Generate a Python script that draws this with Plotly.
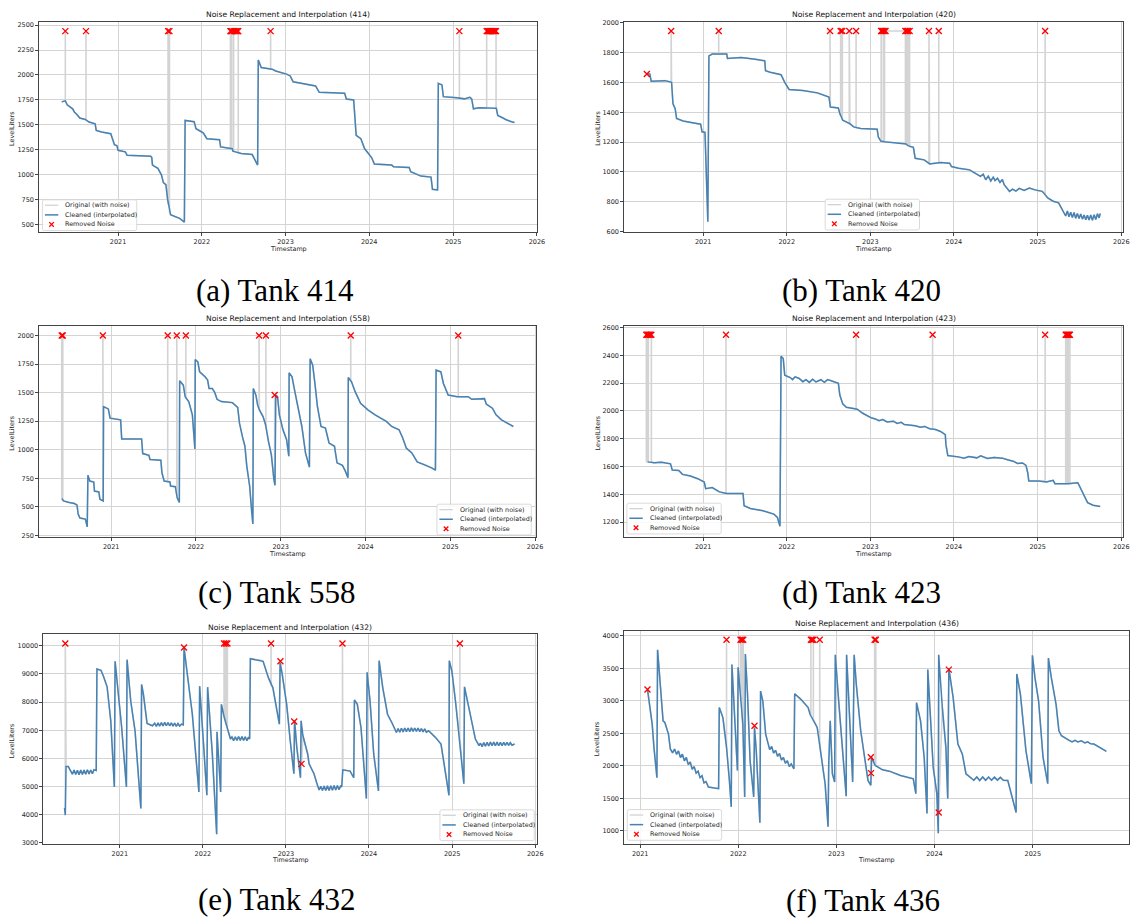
import plotly.graph_objects as go
from datetime import datetime

# ------------------------------------------------------------------
# DATA  (x = decimal year, y = LevelLiters)
# ------------------------------------------------------------------
TANK_IDS = ["414", "420", "558", "423", "432", "436"]
CAPTIONS = ["(a) Tank 414", "(b) Tank 420", "(c) Tank 558",
            "(d) Tank 423", "(e) Tank 432", "(f) Tank 436"]
LEGEND_LABELS = ["Original (with noise)", "Cleaned (interpolated)", "Removed Noise"]

CLEAN_414 = [(2020.329,1730),(2020.372,1740),(2020.394,1700),(2020.437,1676),(2020.459,1660),(2020.481,1626),
    (2020.502,1610),(2020.545,1567),(2020.610,1553),(2020.654,1527),(2020.727,1510),(2020.740,1444),(2020.805,1427),
    (2020.913,1410),(2020.926,1377),(2020.957,1300),(2020.987,1290),(2021.000,1244),(2021.087,1228),(2021.108,1194),
    (2021.390,1184),(2021.403,1170),(2021.411,1095),(2021.476,1062),(2021.519,995),(2021.532,960),(2021.541,919),
    (2021.571,900),(2021.593,746),(2021.628,596),(2021.671,580),(2021.736,560),(2021.792,523),(2021.801,1543),
    (2021.909,1530),(2021.931,1460),(2021.974,1440),(2022.017,1420),(2022.061,1360),(2022.212,1350),(2022.225,1278),
    (2022.364,1260),(2022.372,1234),(2022.472,1211),(2022.602,1201),(2022.667,1095),(2022.675,2151),(2022.710,2075),
    (2022.840,2058),(2022.883,2040),(2023.013,2008),(2023.056,1990),(2023.091,1932),(2023.229,1909),(2023.359,1890),
    (2023.403,1826),(2023.706,1816),(2023.727,1759),(2023.814,1749),(2023.844,1394),(2023.900,1360),(2023.944,1261),
    (2023.987,1211),(2024.030,1168),(2024.061,1105),(2024.268,1095),(2024.290,1078),(2024.476,1070),(2024.494,1029),
    (2024.571,1002),(2024.615,985),(2024.736,975),(2024.753,852),(2024.814,845),(2024.823,1915),(2024.866,1900),
    (2024.883,1782),(2025.048,1770),(2025.134,1760),(2025.199,1776),(2025.221,1760),(2025.242,1660),(2025.307,1670),
    (2025.515,1665),(2025.532,1593),(2025.589,1570),(2025.632,1550),(2025.697,1530),(2025.732,1522)]
NOISE_X_414 = [2020.372, 2020.618, 2021.597, 2021.614, 2022.342, 2022.350, 2022.357, 2022.380, 2022.392,
               2022.404, 2022.416, 2022.428, 2022.436, 2022.822, 2025.074, 2025.400, 2025.410, 2025.420,
               2025.430, 2025.440, 2025.450, 2025.460, 2025.470, 2025.480, 2025.490, 2025.500, 2025.512]
NOISE_Y_414 = [2440, 2440, 2440, 2440, 2440, 2440, 2440, 2440, 2440, 2440, 2440, 2440, 2440, 2440,
               2440, 2440, 2440, 2440, 2440, 2440, 2440, 2440, 2440, 2440, 2440, 2440, 2440]
NOISE_BASE_414 = [1740, 1550, 700, 620, 1265, 1265, 1262, 1232, 1228, 1225, 1222, 1220, 1218, 2060,
                  1768, 1667, 1667, 1667, 1667, 1667, 1667, 1667, 1667, 1667, 1666, 1666, 1665]

CLEAN_420 = [(2020.319,1657),(2020.363,1657),(2020.380,1608),(2020.458,1608),(2020.545,1612),(2020.623,1601),
    (2020.640,1457),(2020.666,1424),(2020.683,1358),(2020.761,1342),(2020.848,1331),(2020.970,1320),(2020.987,1269),
    (2021.022,1265),(2021.056,667),(2021.069,1778),(2021.108,1790),(2021.282,1790),(2021.291,1761),(2021.455,1767),
    (2021.629,1756),(2021.737,1745),(2021.746,1679),(2021.802,1668),(2021.932,1652),(2021.976,1601),(2022.028,1553),
    (2022.193,1546),(2022.366,1530),(2022.431,1517),(2022.505,1502),(2022.522,1435),(2022.617,1429),(2022.635,1391),
    (2022.670,1347),(2022.756,1324),(2022.800,1302),(2022.886,1291),(2023.082,1287),(2023.095,1236),(2023.125,1207),
    (2023.168,1203),(2023.428,1187),(2023.450,1176),(2023.515,1165),(2023.537,1092),(2023.645,1081),(2023.710,1054),
    (2023.841,1063),(2023.949,1059),(2023.971,1036),(2024.057,1025),(2024.187,1014),(2024.252,992),(2024.317,970),
    (2024.350,985),(2024.380,948),(2024.410,972),(2024.440,940),(2024.470,965),(2024.491,942),(2024.520,958),
    (2024.550,930),(2024.578,950),(2024.600,915),(2024.664,870),(2024.700,885),(2024.740,872),(2024.780,890),
    (2024.838,876),(2024.900,892),(2024.968,880),(2025.055,870),(2025.120,826),(2025.185,804),(2025.250,793),
    (2025.315,733),(2025.335,705),(2025.355,738),(2025.375,700),(2025.395,730),(2025.415,695),(2025.435,728),
    (2025.455,690),(2025.475,722),(2025.495,688),(2025.515,718),(2025.535,684),(2025.555,712),(2025.575,680),
    (2025.595,710),(2025.615,678),(2025.635,712),(2025.655,676),(2025.675,714),(2025.695,682),(2025.715,720),
    (2025.735,692),(2025.748,722)]
NOISE_X_420 = [2020.328, 2020.618, 2021.186, 2022.518, 2022.645, 2022.665, 2022.748, 2022.830, 2023.130, 2023.143,
               2023.156, 2023.170, 2023.182, 2023.420, 2023.435, 2023.450, 2023.470, 2023.702, 2023.819, 2025.089]
NOISE_Y_420 = [1657, 1945, 1945, 1945, 1945, 1945, 1945, 1945, 1945, 1945,
               1945, 1945, 1945, 1945, 1945, 1945, 1945, 1945, 1945, 1945]
NOISE_BASE_420 = [1657, 1602, 1790, 1480, 1375, 1350, 1322, 1296, 1215, 1206,
                  1205, 1204, 1203, 1187, 1183, 1176, 1170, 1060, 1062, 850]

CLEAN_558 = [(2020.418,572),(2020.440,551),(2020.504,537),(2020.568,528),(2020.598,514),(2020.611,436),(2020.632,401),
    (2020.696,392),(2020.718,325),(2020.726,777),(2020.748,725),(2020.795,717),(2020.803,638),(2020.855,630),
    (2020.867,566),(2020.906,551),(2020.910,1377),(2020.966,1357),(2020.987,1276),(2021.111,1261),(2021.124,1093),
    (2021.359,1093),(2021.372,966),(2021.445,951),(2021.458,914),(2021.586,908),(2021.599,798),(2021.625,725),
    (2021.693,717),(2021.701,682),(2021.757,676),(2021.778,580),(2021.804,537),(2021.808,1603),(2021.851,1565),
    (2021.873,1464),(2021.915,1421),(2021.958,1305),(2021.988,1006),(2021.992,1789),(2022.022,1768),(2022.044,1681),
    (2022.108,1638),(2022.138,1609),(2022.155,1536),(2022.193,1536),(2022.223,1499),(2022.249,1441),(2022.300,1421),
    (2022.429,1412),(2022.493,1371),(2022.514,1232),(2022.548,1116),(2022.578,1030),(2022.600,856),(2022.634,682),
    (2022.659,450),(2022.672,349),(2022.677,1536),(2022.707,1479),(2022.728,1392),(2022.749,1348),(2022.792,1290),
    (2022.822,1218),(2022.856,1073),(2022.890,957),(2022.920,740),(2022.933,688),(2022.942,1479),(2022.963,1464),
    (2022.985,1305),(2023.027,1174),(2023.070,1087),(2023.096,943),(2023.100,1673),(2023.134,1638),(2023.164,1522),
    (2023.207,1348),(2023.250,1203),(2023.293,972),(2023.339,847),(2023.348,1797),(2023.378,1739),(2023.404,1580),
    (2023.434,1377),(2023.476,1203),(2023.528,1189),(2023.571,1058),(2023.635,1030),(2023.665,885),(2023.729,862),
    (2023.763,812),(2023.794,754),(2023.798,1632),(2023.836,1594),(2023.879,1508),(2023.943,1406),(2024.029,1348),
    (2024.114,1305),(2024.246,1247),(2024.310,1203),(2024.396,1174),(2024.439,1102),(2024.481,1015),(2024.546,972),
    (2024.610,893),(2024.696,870),(2024.781,841),(2024.824,821),(2024.832,1696),(2024.888,1681),(2024.918,1580),
    (2024.974,1479),(2025.081,1464),(2025.210,1464),(2025.252,1441),(2025.402,1447),(2025.423,1400),(2025.496,1363),
    (2025.539,1305),(2025.603,1261),(2025.679,1232),(2025.743,1203)]
NOISE_X_558 = [2020.418, 2020.430, 2020.902, 2021.667, 2021.774, 2021.881, 2022.745, 2022.826, 2022.929,
               2023.827, 2025.093]
NOISE_Y_558 = [2000, 2000, 2000, 2000, 2000, 2000, 2000, 2000, 1479, 2000, 2000]
NOISE_BASE_558 = [572, 555, 555, 720, 600, 1450, 1355, 1205, 705, 1600, 1464]

CLEAN_423 = [(2020.337,1633),(2020.415,1626),(2020.501,1631),(2020.610,1619),(2020.631,1574),(2020.709,1571),
    (2020.753,1543),(2020.848,1531),(2020.935,1512),(2021.013,1488),(2021.030,1440),(2021.108,1448),(2021.195,1417),
    (2021.282,1405),(2021.477,1405),(2021.490,1317),(2021.564,1298),(2021.716,1281),(2021.846,1257),(2021.889,1233),
    (2021.919,1169),(2021.932,2393),(2021.958,2376),(2021.976,2257),(2022.041,2240),(2022.070,2225),(2022.100,2245),
    (2022.149,2233),(2022.193,2210),(2022.230,2225),(2022.270,2205),(2022.310,2228),(2022.350,2208),(2022.409,2224),
    (2022.450,2205),(2022.490,2225),(2022.540,2215),(2022.618,2198),(2022.635,2114),(2022.670,2050),(2022.713,2026),
    (2022.843,2012),(2022.908,1983),(2022.973,1960),(2023.020,1948),(2023.060,1942),(2023.103,1930),(2023.150,1938),
    (2023.200,1920),(2023.277,1926),(2023.320,1910),(2023.370,1918),(2023.407,1902),(2023.460,1898),(2023.537,1893),
    (2023.600,1882),(2023.650,1888),(2023.710,1872),(2023.780,1866),(2023.840,1852),(2023.897,1829),(2023.905,1757),
    (2023.927,1679),(2024.057,1669),(2024.120,1660),(2024.180,1672),(2024.274,1662),(2024.320,1676),(2024.400,1658),
    (2024.480,1665),(2024.578,1660),(2024.640,1648),(2024.708,1638),(2024.760,1622),(2024.820,1625),(2024.860,1608),
    (2024.881,1555),(2024.894,1495),(2025.011,1495),(2025.100,1488),(2025.185,1500),(2025.207,1476),(2025.359,1476),
    (2025.480,1483),(2025.510,1448),(2025.554,1393),(2025.597,1340),(2025.662,1321),(2025.748,1312)]
NOISE_X_423 = [2020.322, 2020.334, 2020.346, 2020.358, 2020.370, 2020.382, 2021.273, 2022.830, 2023.745,
               2025.089, 2025.335, 2025.345, 2025.355, 2025.365, 2025.375, 2025.385]
NOISE_Y_423 = [2548, 2548, 2548, 2548, 2548, 2548, 2548, 2548, 2548, 2548, 2548, 2548, 2548, 2548, 2548, 2548]
NOISE_BASE_423 = [1633, 1633, 1633, 1633, 1633, 1633, 1405, 2015, 1870, 1495, 1476, 1476, 1476, 1476, 1476, 1476]

CLEAN_432 = [(2020.336,4245),(2020.345,3987),(2020.354,5713),(2020.380,5713),(2020.410,5549),(2020.430,5440),
    (2020.450,5590),(2020.470,5430),(2020.490,5580),(2020.510,5420),(2020.530,5590),(2020.550,5430),(2020.570,5590),
    (2020.590,5440),(2020.610,5600),(2020.630,5450),(2020.650,5590),(2020.670,5460),(2020.690,5600),(2020.716,5572),
    (2020.725,9178),(2020.773,9131),(2020.803,8919),(2020.847,8544),(2020.891,7334),(2020.934,4985),(2020.943,9448),
    (2020.978,8391),(2021.022,7099),(2021.079,4985),(2021.087,9507),(2021.131,8039),(2021.183,6982),(2021.253,4221),
    (2021.262,8626),(2021.284,8274),(2021.328,7240),(2021.393,7158),(2021.420,7250),(2021.440,7140),(2021.460,7260),
    (2021.480,7150),(2021.500,7270),(2021.520,7150),(2021.540,7280),(2021.560,7160),(2021.580,7270),(2021.600,7160),
    (2021.620,7260),(2021.640,7150),(2021.660,7250),(2021.680,7140),(2021.700,7240),(2021.720,7150),(2021.742,7217),
    (2021.764,7193),(2021.773,9941),(2021.808,9096),(2021.873,7569),(2021.952,4809),(2021.961,8567),(2022.013,6277),
    (2022.048,4691),(2022.057,8532),(2022.114,6159),(2022.166,3306),(2022.170,6946),(2022.214,4809),(2022.223,7921),
    (2022.258,7451),(2022.288,7158),(2022.332,6688),(2022.350,6760),(2022.370,6630),(2022.390,6770),(2022.410,6640),
    (2022.430,6780),(2022.450,6640),(2022.470,6780),(2022.490,6640),(2022.510,6770),(2022.530,6630),(2022.550,6760),
    (2022.563,6688),(2022.572,9542),(2022.703,9483),(2022.725,9448),(2022.790,8861),(2022.843,8508),(2022.921,7217),
    (2022.930,9389),(2022.956,8978),(2023.009,7921),(2023.052,6629),(2023.096,5455),(2023.105,7334),(2023.131,6394),
    (2023.175,5314),(2023.183,7334),(2023.205,6805),(2023.262,6159),(2023.279,5807),(2023.338,5455),(2023.380,5044),
    (2023.400,4880),(2023.420,5010),(2023.440,4860),(2023.460,5020),(2023.480,4860),(2023.500,5030),(2023.520,4860),
    (2023.540,5030),(2023.560,4870),(2023.580,5040),(2023.600,4880),(2023.620,5040),(2023.640,4890),(2023.660,5040),
    (2023.672,4985),(2023.686,5596),(2023.773,5549),(2023.817,5314),(2023.825,8074),(2023.860,7921),(2023.904,7099),
    (2023.969,4574),(2023.978,9060),(2024.013,8039),(2024.057,6159),(2024.114,4844),(2024.122,9471),(2024.166,8508),
    (2024.223,7569),(2024.275,7275),(2024.310,7040),(2024.330,6920),(2024.350,7060),(2024.370,6930),(2024.390,7070),
    (2024.410,6940),(2024.430,7080),(2024.450,6950),(2024.470,7080),(2024.490,6950),(2024.510,7090),(2024.530,6960),
    (2024.550,7080),(2024.570,6960),(2024.590,7080),(2024.610,6950),(2024.630,7060),(2024.650,6940),(2024.670,7050),
    (2024.690,6930),(2024.716,6982),(2024.799,6747),(2024.865,6512),(2024.908,5690),(2024.961,4691),(2024.965,9471),
    (2024.996,9096),(2025.039,8039),(2025.083,6747),(2025.140,5102),(2025.148,8544),(2025.192,7921),(2025.236,7334),
    (2025.279,6688),(2025.323,6453),(2025.340,6540),(2025.360,6420),(2025.380,6560),(2025.400,6430),(2025.420,6570),
    (2025.440,6440),(2025.460,6580),(2025.480,6450),(2025.500,6580),(2025.520,6450),(2025.540,6580),(2025.560,6450),
    (2025.580,6570),(2025.600,6450),(2025.620,6570),(2025.640,6460),(2025.660,6570),(2025.680,6460),(2025.700,6560),
    (2025.720,6470),(2025.751,6512)]
NOISE_X_432 = [2020.345, 2021.773, 2022.255, 2022.275, 2022.295, 2022.821, 2022.934, 2023.100, 2023.188,
               2023.681, 2025.092]
NOISE_Y_432 = [10080, 9941, 10080, 10080, 10080, 10080, 9448, 7310, 5807, 10080, 10080]
NOISE_BASE_432 = [5713, 9941, 7500, 7250, 7050, 8600, 9448, 7310, 5807, 5596, 6747]

CLEAN_436 = [(2021.074,3176),(2021.096,2947),(2021.122,2642),(2021.140,2286),(2021.170,1818),(2021.177,3786),
    (2021.207,3253),(2021.233,2693),(2021.251,2668),(2021.288,2490),(2021.307,2261),(2021.330,2200),(2021.350,2260),
    (2021.370,2180),(2021.390,2230),(2021.410,2130),(2021.430,2180),(2021.450,2080),(2021.470,2130),(2021.490,2020),
    (2021.510,2060),(2021.530,1950),(2021.550,1990),(2021.570,1890),(2021.590,1920),(2021.610,1820),(2021.630,1850),
    (2021.650,1740),(2021.670,1760),(2021.695,1676),(2021.799,1651),(2021.806,2897),(2021.843,2744),(2021.880,2286),
    (2021.909,1778),(2021.928,1371),(2021.935,3558),(2021.972,2388),(2021.991,1930),(2021.998,3517),(2022.020,3151),
    (2022.046,2642),(2022.065,1524),(2022.072,3720),(2022.094,3100),(2022.120,2083),(2022.157,1524),(2022.165,2591),
    (2022.183,2236),(2022.205,1574),(2022.220,1127),(2022.227,3151),(2022.250,2998),(2022.279,2490),(2022.305,2337),
    (2022.320,2250),(2022.340,2300),(2022.360,2200),(2022.380,2240),(2022.400,2150),(2022.420,2190),(2022.440,2090),
    (2022.460,2130),(2022.480,2040),(2022.500,2080),(2022.520,1990),(2022.540,2030),(2022.567,1956),(2022.575,3110),
    (2022.638,3024),(2022.712,2897),(2022.731,2795),(2022.804,2591),(2022.841,2210),(2022.885,1727),(2022.915,1066),
    (2022.922,2032),(2022.937,2693),(2022.959,1880),(2022.982,1752),(2022.989,3710),(2023.018,3100),(2023.055,2388),
    (2023.100,1534),(2023.104,3710),(2023.129,2846),(2023.166,1752),(2023.181,3710),(2023.203,3253),(2023.248,2541),
    (2023.285,2134),(2023.322,1778),(2023.351,1702),(2023.359,2134),(2023.396,2007),(2023.470,1941),(2023.540,1920),
    (2023.654,1854),(2023.784,1803),(2023.810,1574),(2023.817,2973),(2023.858,2693),(2023.895,2134),(2023.924,1269),
    (2023.932,3481),(2023.950,2998),(2023.987,1981),(2024.024,1574),(2024.039,964),(2024.043,3710),(2024.080,2897),
    (2024.116,2286),(2024.135,1498),(2024.146,3507),(2024.190,3049),(2024.238,2337),(2024.283,2185),(2024.320,1880),
    (2024.375,1818),(2024.400,1780),(2024.430,1830),(2024.460,1775),(2024.490,1830),(2024.520,1780),(2024.550,1830),
    (2024.580,1780),(2024.610,1828),(2024.640,1782),(2024.670,1825),(2024.700,1780),(2024.745,1778),(2024.782,1574),
    (2024.830,1285),(2024.837,3415),(2024.874,3100),(2024.930,2236),(2024.985,1727),(2024.996,3700),(2025.022,3354),
    (2025.059,2998),(2025.104,2134),(2025.152,1727),(2025.159,3659),(2025.189,3354),(2025.237,2947),(2025.266,2541),
    (2025.292,2464),(2025.366,2398),(2025.400,2370),(2025.430,2395),(2025.460,2370),(2025.495,2388),(2025.530,2355),
    (2025.560,2370),(2025.590,2340),(2025.623,2337),(2025.680,2290),(2025.750,2225)]
NOISE_X_436 = [2021.074, 2021.880, 2022.022, 2022.036, 2022.050, 2022.165, 2022.740, 2022.752, 2022.765,
               2022.830, 2023.351, 2023.353, 2023.390, 2023.402, 2024.043, 2024.146]
NOISE_Y_436 = [3176, 3939, 3939, 3939, 3939, 2617, 3939, 3939, 3939, 3939, 2134, 1890, 3939, 3939, 1285, 3481]
NOISE_BASE_436 = [3176, 2286, 3140, 2880, 2500, 2591, 2780, 2750, 2720, 2400, 2134, 1890, 2010, 2005, 1285, 3481]

# axis ranges (decimal years / litres) and y tick steps
X_RANGES = [(2020.061, 2026.0), (2020.059, 2026.018), (2020.153, 2026.013),
            (2020.059, 2026.018), (2020.083, 2026.02), (2020.838, 2025.984)]
Y_RANGES = [(424, 2530), (598, 2004), (236, 2087), (1093, 2614), (2965, 10423), (802, 4076)]
Y_TICK0 = [500, 600, 250, 1200, 3000, 1000]
Y_DTICK = [250, 200, 250, 200, 1000, 500]

PANELS = [
    (CLEAN_414, NOISE_X_414, NOISE_Y_414, NOISE_BASE_414),
    (CLEAN_420, NOISE_X_420, NOISE_Y_420, NOISE_BASE_420),
    (CLEAN_558, NOISE_X_558, NOISE_Y_558, NOISE_BASE_558),
    (CLEAN_423, NOISE_X_423, NOISE_Y_423, NOISE_BASE_423),
    (CLEAN_432, NOISE_X_432, NOISE_Y_432, NOISE_BASE_432),
    (CLEAN_436, NOISE_X_436, NOISE_Y_436, NOISE_BASE_436),
]

# ------------------------------------------------------------------
# LAYOUT (pixel geometry of the 1142 x 924 canvas)
# ------------------------------------------------------------------
W, H = 1142, 924
AX_BOX = [(39.5, 540.7, 19.3, 230.7), (628.7, 1130.7, 19.3, 230.7),
          (39.5, 540.0, 325.0, 538.0), (628.7, 1130.7, 325.0, 538.0),
          (43.8, 540.7, 635.7, 847.3), (628.7, 1137.3, 632.7, 847.3)]
TITLE_Y = [12, 12, 318, 318, 629, 625]
XLABEL_Y = [248, 248, 555, 555, 864, 864]
YLABEL_X = [12, 602, 12, 602, 12, 602]
YLABEL_Y = [126, 126, 433, 433, 743, 741]
CAPTION_XY = [(277, 290), (868, 290), (278, 594), (868, 594), (278, 903), (869, 904)]
LEGEND_BOX = [(42.7, 198.3), (831.0, 197.7), (440.0, 505.0), (631.3, 504.0), (443.0, 813.0), (631.7, 812.7)]
LEG_W, LEG_H = 95.0, 31.0
LEG_ROWS = [5.5, 15.2, 24.8]

BLUE = "#4682b4"
GREY = "#d3d3d3"
RED = "#ff0000"
SANS = "DejaVu Sans"


def to_date(y):
    yr = int(y)
    a = datetime(yr, 1, 1)
    b = datetime(yr + 1, 1, 1)
    return a + (b - a) * (y - yr)


def original_path(clean, nx, ny, nb):
    events = [(x, 0, v, None) for x, v in clean] + [(x, 1, v, b) for x, v, b in zip(nx, ny, nb)]
    events.sort(key=lambda e: (e[0], e[1]))
    xs, ys = [], []
    in_group = False
    last = None
    for x, kind, v, b in events:
        if kind == 0:
            if in_group:
                xs.append(last[0]); ys.append(last[1])
                in_group = False
            xs.append(x); ys.append(v)
        else:
            if not in_group:
                xs.append(x); ys.append(b)
                in_group = True
            xs.append(x); ys.append(v)
            last = (x, b)
    if in_group:
        xs.append(last[0]); ys.append(last[1])
    return xs, ys


def px(x):
    return x / W


def py(y):
    return 1 - y / H


fig = go.Figure()
layout = dict(width=W, height=H, margin=dict(l=0, r=0, t=0, b=0), showlegend=False,
              paper_bgcolor="white", plot_bgcolor="white", annotations=[], shapes=[])

for i, (clean, nx, ny, nb) in enumerate(PANELS):
    n = i + 1
    xa = "x" if n == 1 else f"x{n}"
    ya = "y" if n == 1 else f"y{n}"

    ox, oy = original_path(clean, nx, ny, nb)
    fig.add_trace(go.Scatter(x=[to_date(v) for v in ox], y=oy, mode="lines",
                             line=dict(color=GREY, width=1.6), name=LEGEND_LABELS[0],
                             xaxis=xa, yaxis=ya))
    fig.add_trace(go.Scatter(x=[to_date(p[0]) for p in clean], y=[p[1] for p in clean], mode="lines",
                             line=dict(color=BLUE, width=1.5), name=LEGEND_LABELS[1],
                             xaxis=xa, yaxis=ya))
    fig.add_trace(go.Scatter(x=[to_date(v) for v in nx], y=ny, mode="markers",
                             marker=dict(symbol="x-thin", size=6, color=RED,
                                         line=dict(color=RED, width=1.3)),
                             name=LEGEND_LABELS[2], xaxis=xa, yaxis=ya))

    x0, x1, y0, y1 = AX_BOX[i]
    xr = X_RANGES[i]
    yr = Y_RANGES[i]
    common = dict(showgrid=True, gridcolor="#d4d4d4", gridwidth=1,
                  showline=True, linecolor="#444444", linewidth=1, mirror=True,
                  ticks="outside", ticklen=3, tickwidth=0.8, tickcolor="#444444",
                  tickfont=dict(family=SANS, size=6.5, color="#262626"), zeroline=False)
    layout["xaxis" if n == 1 else f"xaxis{n}"] = dict(
        domain=[px(x0), px(x1)], anchor=ya, type="date",
        range=[to_date(xr[0]), to_date(xr[1])],
        tick0="2021-01-01", dtick="M12", tickformat="%Y", **common)
    layout["yaxis" if n == 1 else f"yaxis{n}"] = dict(
        domain=[py(y1), py(y0)], anchor=xa, range=list(yr),
        tick0=Y_TICK0[i], dtick=Y_DTICK[i], tickformat="d", **common)

    # legend box (matplotlib-style, compact)
    L, T = LEGEND_BOX[i]
    r = 2.0
    R, B = L + LEG_W, T + LEG_H
    path = (f"M {px(L + r)} {py(T)} L {px(R - r)} {py(T)} Q {px(R)} {py(T)} {px(R)} {py(T + r)} "
            f"L {px(R)} {py(B - r)} Q {px(R)} {py(B)} {px(R - r)} {py(B)} "
            f"L {px(L + r)} {py(B)} Q {px(L)} {py(B)} {px(L)} {py(B - r)} "
            f"L {px(L)} {py(T + r)} Q {px(L)} {py(T)} {px(L + r)} {py(T)} Z")
    layout["shapes"].append(dict(type="path", xref="paper", yref="paper", path=path,
                                 fillcolor="rgba(255,255,255,0.85)",
                                 line=dict(color="#d0d0d0", width=0.8), layer="above"))
    for k, (lab, col) in enumerate(zip(LEGEND_LABELS, [GREY, BLUE, RED])):
        ry = T + LEG_ROWS[k]
        if k < 2:
            layout["shapes"].append(dict(type="line", xref="paper", yref="paper",
                                         x0=px(L + 2.5), x1=px(L + 16.0), y0=py(ry), y1=py(ry),
                                         line=dict(color=col, width=1.5 if k == 1 else 1.3),
                                         layer="above"))
        else:
            cxm, d = L + 9.2, 2.3
            for sgn in (1, -1):
                layout["shapes"].append(dict(type="line", xref="paper", yref="paper",
                                             x0=px(cxm - d), x1=px(cxm + d),
                                             y0=py(ry - sgn * d), y1=py(ry + sgn * d),
                                             line=dict(color=RED, width=1.3), layer="above"))
        layout["annotations"].append(dict(text=lab, x=px(L + 21), y=py(ry), xref="paper", yref="paper",
                                          showarrow=False, xanchor="left", yanchor="middle",
                                          font=dict(family=SANS, size=6.4, color="#262626")))

    cx = (x0 + x1) / 2
    layout["annotations"].append(dict(text=f"Noise Replacement and Interpolation ({TANK_IDS[i]})",
                                      x=px(cx), y=py(TITLE_Y[i]), xref="paper", yref="paper",
                                      showarrow=False, xanchor="center", yanchor="middle",
                                      font=dict(family=SANS, size=7.6, color="#111111")))
    layout["annotations"].append(dict(text="Timestamp", x=px(cx), y=py(XLABEL_Y[i]), xref="paper",
                                      yref="paper", showarrow=False, xanchor="center", yanchor="middle",
                                      font=dict(family=SANS, size=6.4, color="#262626")))
    layout["annotations"].append(dict(text="LevelLiters", x=px(YLABEL_X[i]), y=py(YLABEL_Y[i]),
                                      xref="paper", yref="paper", showarrow=False, textangle=-90,
                                      xanchor="center", yanchor="middle",
                                      font=dict(family=SANS, size=6.4, color="#262626")))
    capx, capy = CAPTION_XY[i]
    layout["annotations"].append(dict(text=CAPTIONS[i], x=px(capx), y=py(capy), xref="paper",
                                      yref="paper", showarrow=False, xanchor="center", yanchor="middle",
                                      font=dict(family="Liberation Serif", size=31, color="#000000")))

fig.update_layout(**layout)
fig.write_html("out.html")
